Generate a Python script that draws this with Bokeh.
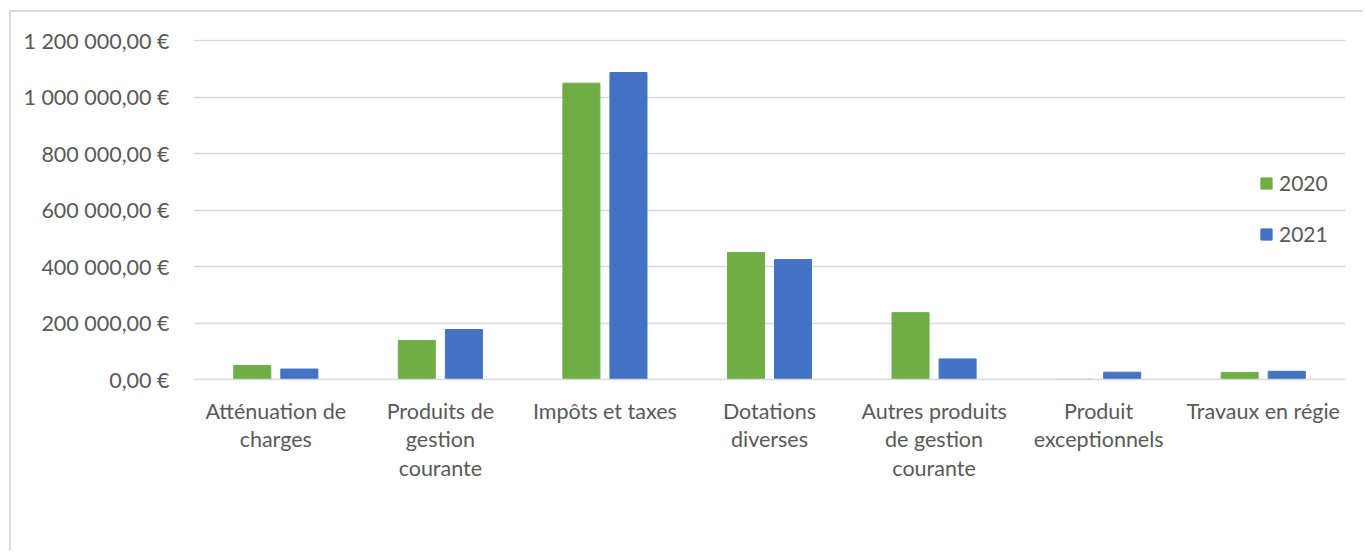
from bokeh.plotting import figure
from bokeh.models import ColumnDataSource, FactorRange, FixedTicker, Legend, LegendItem, Spacer
from bokeh.layouts import column, row
from bokeh.transform import dodge
from bokeh.embed import file_html
from bokeh.resources import INLINE

categories = ["Atténuation de\ncharges", "Produits de\ngestion\ncourante", "Impôts et taxes",
              "Dotations\ndiverses", "Autres produits\nde gestion\ncourante", "Produit\nexceptionnels",
              "Travaux en régie"]
values_2020 = [50000, 138000, 1050000, 450000, 237000, 1000, 25000]
values_2021 = [37000, 177000, 1088000, 425000, 73000, 26000, 29000]
series_names = ["2020", "2021"]
tick_values = [0, 200000, 400000, 600000, 800000, 1000000, 1200000]
tick_labels = ["0,00 €", "200 000,00 €", "400 000,00 €", "600 000,00 €", "800 000,00 €",
               "1 000 000,00 €", "1 200 000,00 €"]

FONT = "Lato"
TXT = "#595959"
GREEN = "#70AD47"
BLUE = "#4472C4"

src = ColumnDataSource(data=dict(cat=categories, v2020=values_2020, v2021=values_2021))

p = figure(x_range=FactorRange(*categories, range_padding=0), y_range=(0, 1205000),
           width=1354, height=540, output_backend="svg", toolbar_location=None,
           min_border_left=182, min_border_right=20, min_border_top=27, min_border_bottom=173)
p.styles = {"border-left": "2px solid #d9d9d9", "border-top": "2px solid #d9d9d9"}
p.outline_line_color = None
p.xgrid.grid_line_color = None
p.ygrid.grid_line_color = "#d9d9d9"
p.ygrid.grid_line_width = 1.5

r1 = p.vbar(x=dodge("cat", -0.143, range=p.x_range), top="v2020", width=0.225, source=src,
            fill_color=GREEN, line_color=GREEN)
r2 = p.vbar(x=dodge("cat", 0.143, range=p.x_range), top="v2021", width=0.225, source=src,
            fill_color=BLUE, line_color=BLUE)

p.yaxis.ticker = FixedTicker(ticks=tick_values)
p.yaxis.major_label_overrides = {t: l for t, l in zip(tick_values, tick_labels)}
p.yaxis.axis_line_color = None
p.yaxis.major_tick_line_color = None
p.yaxis.minor_tick_line_color = None
p.yaxis.major_label_standoff = 18
p.yaxis.major_label_text_font = FONT
p.yaxis.major_label_text_font_size = "21.5px"
p.yaxis.major_label_text_color = TXT

p.xaxis.axis_line_color = "#d9d9d9"
p.xaxis.axis_line_width = 1.5
p.xaxis.major_tick_line_color = None
p.xaxis.minor_tick_line_color = None
p.xaxis.major_label_standoff = 12
p.xaxis.major_label_text_font = FONT
p.xaxis.major_label_text_font_size = "21.5px"
p.xaxis.major_label_text_color = TXT
p.xaxis.major_label_text_line_height = 1.1

legend = Legend(items=[LegendItem(label=series_names[0], renderers=[r1]),
                       LegendItem(label=series_names[1], renderers=[r2])],
                location=(1066, 133), orientation="vertical")
legend.background_fill_alpha = 0
legend.border_line_color = None
legend.padding = 0
legend.margin = 0
legend.spacing = 26
legend.glyph_width = 14
legend.glyph_height = 14
legend.label_height = 25
legend.label_standoff = 6
legend.label_text_font = FONT
legend.label_text_font_size = "21px"
legend.label_text_color = TXT
p.add_layout(legend, "center")

layout = column(Spacer(height=10, width=1365), row(Spacer(width=9, height=540), p))

open("out.html", "w").write(file_html(layout, INLINE))
